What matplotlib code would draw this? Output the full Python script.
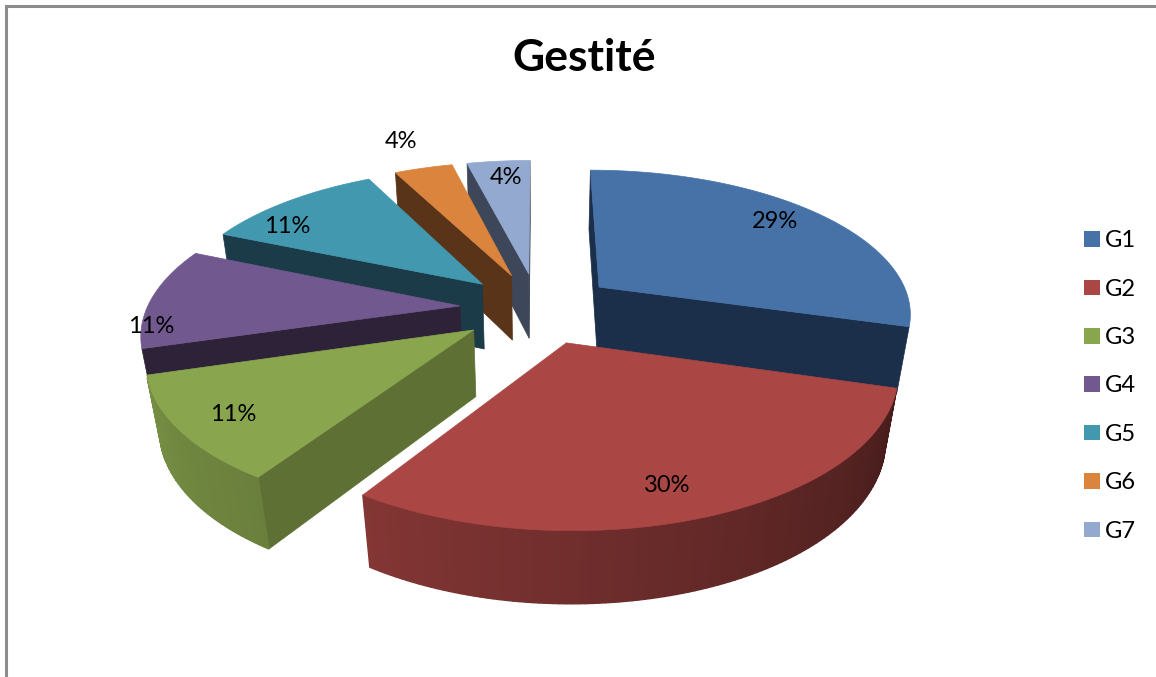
import numpy as np
import matplotlib
matplotlib.use('Agg')
import matplotlib.pyplot as plt
from matplotlib.patches import Patch, Polygon

plt.rcParams['font.family'] = ['Lato', 'DejaVu Sans']

categories = ['G1', 'G2', 'G3', 'G4', 'G5', 'G6', 'G7']
values = [29.49, 29.7, 11.2, 11.05, 11.06, 3.6, 3.9]
pct_labels = ['29%', '30%', '11%', '11%', '11%', '4%', '4%']

top_colors = ['#4672A8', '#AA4644', '#89A54E', '#71588F', '#4198AF', '#DB843D', '#93A9CF']
side_colors = ['#1B2E4A', '#431A16', '#5F7035', '#2E2239', '#1A3B47', '#5A3418', '#3D4759']

# label position inside the pie: angle shift from slice middle (deg), radius
label_shift = [-2.3, 2.6, -0.9, -11.5, -9.8, 0, 0.8]
label_r = [0.83, 0.83, 0.84, 0.97, 0.84, 1.30, 0.83]

# perspective model of the 3d pie, fitted on the picture (pixels)
cx, cy = 538, 308
A, B, H = 313, 143, 68
k, m = 0.168, 0.034
explode = 0.25


def project(u, v, low=False):
    w = 1 + k * v + (m if low else 0)
    return cx + A * u / w, cy - (B * v - (H if low else 0)) / w


def area(pts):
    p = np.array(pts)
    return 0.5 * np.sum(p[:, 0] * np.roll(p[:, 1], -1) - np.roll(p[:, 0], -1) * p[:, 1])


def wall_shade(theta):
    return np.interp(theta, [104, 212, 252, 360], [0.40, 0.77, 0.86, 0.86])


fig = plt.figure(figsize=(11.56, 6.77), dpi=100)
ax = fig.add_axes([0, 0, 1, 1])
ax.set_xlim(0, 1156)
ax.set_ylim(677, 0)
ax.axis('off')

# chart frame, only top and left are inside the crop
ax.plot([5.5, 5.5, 1156], [677, 6, 6], color='#8C8C8C', lw=2.2, solid_joinstyle='miter')

edges = np.cumsum([0] + values) / sum(values) * 360

# back slices first, G2 is the nearest one
for i in [6, 5, 4, 3, 2, 0, 1]:
    start, end = edges[i], edges[i + 1]
    mid = np.radians((start + end) / 2)
    ou, ov = explode * np.sin(mid), explode * np.cos(mid)
    th = np.radians(np.linspace(start, end, max(int(end - start), 2) + 1))
    us = ou + np.sin(th)
    vs = ov + np.cos(th)
    apex_t = project(ou, ov)
    apex_b = project(ou, ov, True)
    rim_t = [project(u, v) for u, v in zip(us, vs)]
    rim_b = [project(u, v, True) for u, v in zip(us, vs)]
    top = [apex_t] + rim_t
    sign = np.sign(area(top))

    for face in ([rim_t[0], apex_t, apex_b, rim_b[0]], [apex_t, rim_t[-1], rim_b[-1], apex_b]):
        if np.sign(area(face)) == sign:
            ax.add_patch(Polygon(face, fc=side_colors[i], ec=side_colors[i], lw=0.5))

    rgb = np.array(matplotlib.colors.to_rgb(top_colors[i]))
    for j in range(len(th) - 1):
        quad = [rim_t[j + 1], rim_t[j], rim_b[j], rim_b[j + 1]]
        if np.sign(area(quad)) == sign:
            col = rgb * wall_shade(np.degrees(th[j]))
            ax.add_patch(Polygon(quad, fc=col, ec=col, lw=1.0))

    ax.add_patch(Polygon(top, fc=top_colors[i], ec=top_colors[i], lw=0.5))

# percentages
for i, txt in enumerate(pct_labels):
    mid = np.radians((edges[i] + edges[i + 1]) / 2)
    a = mid + np.radians(label_shift[i])
    x, y = project(explode * np.sin(mid) + label_r[i] * np.sin(a),
                   explode * np.cos(mid) + label_r[i] * np.cos(a))
    ax.text(x, y, txt, fontsize=17, ha='center', va='center', color='black')

ax.text(584, 58, 'Gestité', fontsize=32, fontweight='bold', ha='center', va='center')

handles = [Patch(fc=c, ec='none') for c in top_colors]
ax.legend(handles, categories, loc='center left', bbox_to_anchor=(1075, 386),
          bbox_transform=ax.transData, frameon=False, fontsize=17,
          handlelength=0.64, handleheight=0.64, handletextpad=0.24,
          labelspacing=1.16, borderpad=0, borderaxespad=0.4)

plt.savefig('out.png', dpi=100)
